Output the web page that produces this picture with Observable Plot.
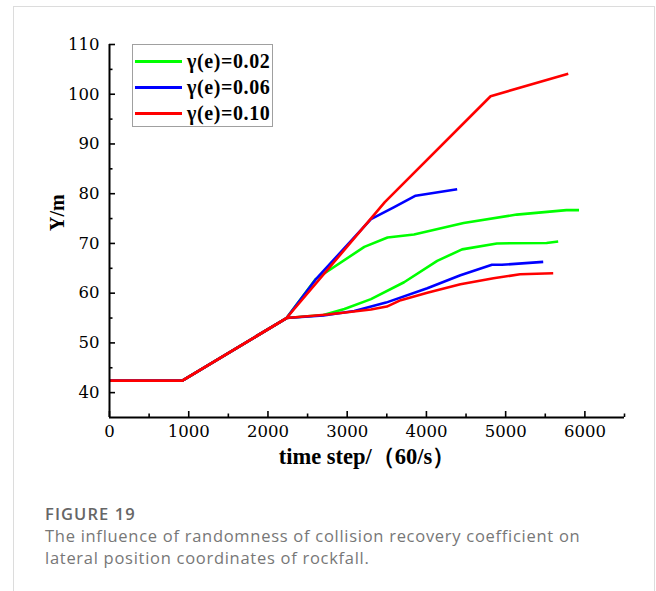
<!DOCTYPE html>
<html><head><meta charset="utf-8">
<script src="https://cdn.jsdelivr.net/npm/d3@7"></script>
<script src="https://cdn.jsdelivr.net/npm/@observablehq/plot@0.6"></script>
<style>
body{margin:0;background:#fff;width:656px;height:591px;position:relative;overflow:hidden}
#box{position:absolute;left:13px;top:6px;width:640px;height:620px;border:1px solid #dcdcdc;border-bottom:none}
#chart{position:absolute;left:0;top:0}
#legend{position:absolute;left:132px;top:44px;width:141px;height:83px;border:1px solid #a0a0a0;background:#fff;box-sizing:border-box}
.item{position:absolute;left:0;height:26px;width:140px}
.sw{position:absolute;left:2px;width:47px;height:3px}
.lt{position:absolute;left:54px;font-family:"Liberation Serif",serif;font-weight:bold;font-size:20px;letter-spacing:0.6px;line-height:20px;color:#000;white-space:nowrap}
#fig{position:absolute;left:45px;top:502px;font-family:"Open Sans",sans-serif;font-weight:600;font-size:16.5px;letter-spacing:1.1px;color:#666}
#cap{position:absolute;left:45px;top:525px;width:610px;font-family:"Open Sans",sans-serif;font-size:16.5px;letter-spacing:0.72px;line-height:22px;color:#777}
</style></head>
<body>
<div id="box"></div>
<div id="chart"></div>
<div id="legend"></div>
<div id="fig">FIGURE 19</div>
<div id="cap">The influence of randomness of collision recovery coefficient on<br>lateral position coordinates of rockfall.</div>
<script>
// series labels and colours
const seriesNames = ["γ(e)=0.02", "γ(e)=0.06", "γ(e)=0.10"];
const seriesColors = ["#00ff00", "#0000ff", "#ff0000"];

// γ(e)=0.02 – two trajectories
const green_hi_t = [0, 920, 2235, 2600, 3216, 3509, 3843, 4470, 5140, 5767, 5926];
const green_hi_y = [42.4, 42.4, 55, 62.8, 69.3, 71.2, 71.8, 74.1, 75.8, 76.7, 76.7];
const green_lo_t = [0, 920, 2235, 2700, 2965, 3300, 3718, 4136, 4450, 4889, 5517, 5663];
const green_lo_y = [42.4, 42.4, 55, 55.6, 56.8, 58.8, 62.2, 66.5, 68.8, 70.0, 70.1, 70.4];

// γ(e)=0.06
const blue_hi_t = [0, 920, 2235, 2600, 3300, 3593, 3864, 4388];
const blue_hi_y = [42.4, 42.4, 55, 62.7, 74.9, 77.3, 79.6, 80.9];
const blue_lo_t = [0, 920, 2235, 2700, 3090, 3490, 4011, 4429, 4827, 4952, 5474];
const blue_lo_y = [42.4, 42.4, 55, 55.5, 56.4, 58.1, 61.0, 63.6, 65.7, 65.7, 66.3];

// γ(e)=0.10
const red_hi_t = [0, 920, 2235, 3475, 4810, 5790];
const red_hi_y = [42.4, 42.4, 55, 78.3, 99.6, 104.1];
const red_lo_t = [0, 920, 2235, 2756, 3300, 3500, 3676, 4011, 4429, 4847, 5182, 5600];
const red_lo_y = [42.4, 42.4, 55, 55.7, 56.7, 57.3, 58.6, 60.1, 61.8, 63.0, 63.8, 64.0];

// axis ticks
const xTicks = [0, 1000, 2000, 3000, 4000, 5000, 6000];
const xMinor = [500, 1500, 2500, 3500, 4500, 5500, 6500];
const yTicks = [40, 50, 60, 70, 80, 90, 100, 110];
const yMinor = [45, 55, 65, 75, 85, 95, 105];

const branches = [
  [seriesNames[0], "hi", green_hi_t, green_hi_y],
  [seriesNames[0], "lo", green_lo_t, green_lo_y],
  [seriesNames[1], "hi", blue_hi_t, blue_hi_y],
  [seriesNames[1], "lo", blue_lo_t, blue_lo_y],
  [seriesNames[2], "hi", red_hi_t, red_hi_y],
  [seriesNames[2], "lo", red_lo_t, red_lo_y]
];
const rows = branches.flatMap(([s, b, ts, ys]) => ts.map((t, i) => ({t, y: ys[i], s, k: s + b})));

const plot = Plot.plot({
  width: 656, height: 475,
  marginLeft: 109, marginRight: 32, marginTop: 44, marginBottom: 58,
  style: {fontFamily: "DejaVu Serif, serif", fontSize: "16.5px", color: "#000", background: "transparent"},
  x: {domain: [0, 6500]},
  y: {domain: [35, 110]},
  color: {domain: seriesNames, range: seriesColors},
  marks: [
    Plot.line(rows, {x: "t", y: "y", z: "k", stroke: "s", strokeWidth: 2.6, strokeLinejoin: "round", strokeLinecap: "butt"}),
    Plot.axisX(xTicks, {anchor: "bottom", tickSize: -6, tickPadding: 14, strokeWidth: 1.6, label: null, tickFormat: d => String(d)}),
    Plot.axisX(xMinor, {anchor: "bottom", tickSize: -3.5, strokeWidth: 1.6, label: null, tickFormat: () => ""}),
    Plot.axisY(yTicks, {anchor: "left", tickSize: -6, tickPadding: 16, strokeWidth: 1.6, label: null, tickFormat: d => String(d)}),
    Plot.axisY(yMinor, {anchor: "left", tickSize: -3.5, strokeWidth: 1.6, label: null, tickFormat: () => ""}),
    Plot.ruleY([35], {strokeWidth: 2}),
    Plot.ruleX([0], {strokeWidth: 2}),
    Plot.text(["time step/（60/s）"], {frameAnchor: "bottom", dy: 46, fontFamily: "Liberation Serif, serif", fontWeight: "bold", fontSize: 22.5, text: d => d}),
    Plot.text(["Y/m"], {frameAnchor: "left", dx: -52, rotate: -90, fontFamily: "Liberation Serif, serif", fontWeight: "bold", fontSize: 20, text: d => d})
  ]
});
document.getElementById("chart").appendChild(plot);

const lg = document.getElementById("legend");
seriesNames.forEach((n, i) => {
  const it = document.createElement("div");
  it.className = "item";
  it.style.top = (3 + i * 26) + "px";
  it.innerHTML = `<div class="sw" style="top:12px;background:${seriesColors[i]}"></div><div class="lt" style="top:3px">${n}</div>`;
  lg.appendChild(it);
});
</script>
</body></html>
